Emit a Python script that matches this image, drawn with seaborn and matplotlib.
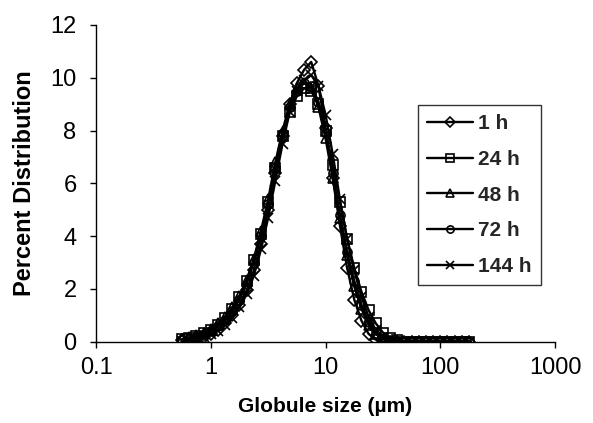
import matplotlib
matplotlib.use("Agg")
import matplotlib.pyplot as plt
import numpy as np
import pandas as pd
import seaborn as sns

# Globule size bands (um), 16 per decade, 0.56 .. 178
SIZE_UM = [0.562, 0.649, 0.750, 0.866, 1.000, 1.155, 1.334, 1.540, 1.778, 2.054,
           2.371, 2.738, 3.162, 3.652, 4.217, 4.870, 5.623, 6.494, 7.499, 8.660,
           10.00, 11.55, 13.34, 15.40, 17.78, 20.54, 23.71, 27.38, 31.62, 36.52,
           42.17, 48.70, 56.23, 64.94, 74.99, 86.60, 100.0, 115.5, 133.4, 154.0,
           177.8]

PCT_1H = [0.05, 0.08, 0.12, 0.20, 0.30, 0.45, 0.70, 1.00, 1.40, 1.95,
          2.70, 3.70, 5.00, 6.40, 7.80, 9.00, 9.80, 10.3, 10.6, 9.70,
          8.10, 6.20, 4.40, 2.80, 1.60, 0.80, 0.30, 0.08, 0.00, 0.00,
          0.00, 0.00, 0.00, 0.00, 0.00, 0.00, 0.00, 0.00, 0.00, 0.00,
          0.00]
PCT_24H = [0.10, 0.15, 0.22, 0.32, 0.45, 0.65, 0.90, 1.25, 1.70, 2.30,
           3.10, 4.10, 5.30, 6.60, 7.80, 8.70, 9.30, 9.60, 9.50, 9.00,
           8.00, 6.70, 5.30, 3.90, 2.80, 1.90, 1.20, 0.70, 0.35, 0.15,
           0.05, 0.00, 0.00, 0.00, 0.00, 0.00, 0.00, 0.00, 0.00, 0.00,
           0.00]
PCT_48H = [0.10, 0.17, 0.25, 0.35, 0.50, 0.70, 0.95, 1.30, 1.75, 2.35,
           3.15, 4.20, 5.40, 6.80, 8.00, 9.00, 9.60, 9.80, 9.60, 8.90,
           7.70, 6.20, 4.70, 3.30, 2.10, 1.25, 0.65, 0.30, 0.10, 0.02,
           0.00, 0.00, 0.00, 0.00, 0.00, 0.00, 0.00, 0.00, 0.00, 0.00,
           0.00]
PCT_72H = [0.07, 0.12, 0.18, 0.27, 0.40, 0.58, 0.82, 1.15, 1.60, 2.20,
           3.00, 4.00, 5.20, 6.60, 7.90, 8.90, 9.50, 9.80, 9.70, 9.10,
           7.90, 6.40, 4.80, 3.40, 2.30, 1.40, 0.75, 0.35, 0.12, 0.03,
           0.00, 0.00, 0.00, 0.00, 0.00, 0.00, 0.00, 0.00, 0.00, 0.00,
           0.00]
PCT_144H = [0.04, 0.07, 0.11, 0.18, 0.28, 0.42, 0.62, 0.90, 1.30, 1.80,
            2.50, 3.50, 4.70, 6.10, 7.50, 8.70, 9.50, 9.90, 10.1, 9.70,
            8.60, 7.10, 5.40, 3.90, 2.70, 1.70, 0.95, 0.45, 0.18, 0.05,
            0.00, 0.00, 0.00, 0.00, 0.00, 0.00, 0.00, 0.00, 0.00, 0.00,
            0.00]

LABELS = ["1 h", "24 h", "48 h", "72 h", "144 h"]
SERIES = [PCT_1H, PCT_24H, PCT_48H, PCT_72H, PCT_144H]
MARKERS = ["D", "s", "^", "o", "x"]

X_TICKS = [0.1, 1, 10, 100, 1000]
X_TICKLABELS = ["0.1", "1", "10", "100", "1000"]
Y_TICKS = [0, 2, 4, 6, 8, 10, 12]

sns.set_theme(style="white")
plt.rcParams["font.family"] = ["Liberation Sans", "DejaVu Sans"]

fig = plt.figure(figsize=(5.93, 4.23), dpi=100)
ax = fig.add_axes([0.162, 0.192, 0.774, 0.749])

for lab, vals, mk in zip(LABELS, SERIES, MARKERS):
    d = pd.DataFrame({"size": SIZE_UM, "pct": vals})
    sns.lineplot(
        data=d, x="size", y="pct", ax=ax, color="black",
        marker=mk, linewidth=1.7,
        markersize=7 if mk == "x" else 6.5,
        markerfacecolor="none", markeredgecolor="black",
        markeredgewidth=1.2, label=lab, legend=False,
    )

ax.set_xscale("log")
ax.set_xlim(0.1, 1000)
ax.set_ylim(0, 12)
ax.set_xticks(X_TICKS)
ax.set_xticklabels(X_TICKLABELS)
ax.xaxis.set_minor_locator(matplotlib.ticker.NullLocator())
ax.set_yticks(Y_TICKS)

for side in ("top", "right"):
    ax.spines[side].set_visible(False)
for side in ("left", "bottom"):
    ax.spines[side].set_color("black")
    ax.spines[side].set_linewidth(1.0)

ax.tick_params(axis="x", direction="out", length=4, width=1, pad=7,
               labelsize=17, colors="black", bottom=True)
ax.tick_params(axis="y", direction="out", length=4, width=1, pad=10,
               labelsize=17, colors="black", left=True)

ax.set_xlabel("Globule size (\u00b5m)", fontsize=15, fontweight="bold",
              labelpad=13, color="black")
ax.set_ylabel("Percent Distribution", fontsize=17, fontweight="bold",
              labelpad=10, color="black")

handles = ax.get_lines()[:5]
leg = fig.legend(
    handles, LABELS, loc="upper left",
    bbox_to_anchor=(418 / 593, 1 - 105 / 423),
    prop={"weight": "bold", "size": 15},
    frameon=True, fancybox=False, edgecolor="black",
    handlelength=2.2, handletextpad=0.25, labelspacing=0.8,
    borderpad=0.45, borderaxespad=0.0, markerscale=0.8,
)
leg.get_frame().set_linewidth(1.0)

fig.savefig("out.png", dpi=100)
